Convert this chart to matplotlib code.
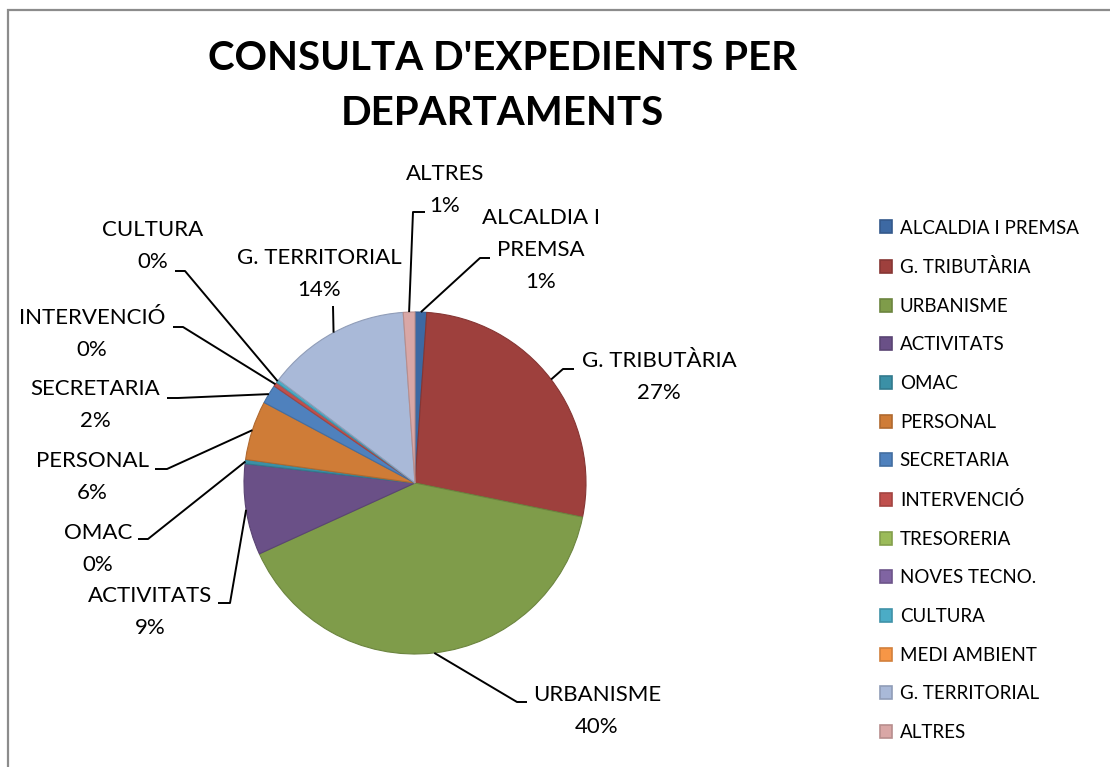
import numpy as np
import matplotlib
matplotlib.use("Agg")
import matplotlib.pyplot as plt
import matplotlib.colors as mcolors
from matplotlib.patches import Rectangle

plt.rcParams["font.family"] = ["Lato", "DejaVu Sans"]

W, H = 1110, 767

departments = ["ALCALDIA I PREMSA", "G. TRIBUTÀRIA", "URBANISME", "ACTIVITATS",
               "OMAC", "PERSONAL", "SECRETARIA", "INTERVENCIÓ", "TRESORERIA",
               "NOVES TECNO.", "CULTURA", "MEDI AMBIENT", "G. TERRITORIAL",
               "ALTRES"]
shares = [1.1, 27.1, 40.0, 8.6, 0.4, 5.6, 1.8, 0.4, 0.0, 0.0, 0.3, 0.0, 13.6, 1.1]
colors = ["#3d69a3", "#9e403d", "#7f9c4a", "#6a5087", "#3b90a6", "#cf7c37",
          "#4f81bd", "#c0504d", "#9bbb59", "#8064a2", "#4bacc6", "#f79646",
          "#a9b9d8", "#d9a7a6"]

# label layout in pixel coords (y down): text centre, elbow, end of short tick
label_layout = {
    "ALCALDIA I PREMSA": ((541, 250), (480, 258), (490, 258), "ALCALDIA I\nPREMSA"),
    "G. TRIBUTÀRIA": ((659, 377), (563, 369), (574, 369), "G. TRIBUTÀRIA"),
    "URBANISME": ((597, 711), (517, 702), (527, 702), "URBANISME"),
    "ACTIVITATS": ((150, 612), (230, 603), (218, 603), "ACTIVITATS"),
    "OMAC": ((98, 549), (148, 539), (138, 539), "OMAC"),
    "PERSONAL": ((92, 477), (167, 469), (155, 469), "PERSONAL"),
    "SECRETARIA": ((95, 405), (178, 398), (167, 398), "SECRETARIA"),
    "INTERVENCIÓ": ((92, 334), (183, 327), (173, 327), "INTERVENCIÓ"),
    "CULTURA": ((153, 246), (185, 271), (175, 271), "CULTURA"),
    "G. TERRITORIAL": ((319, 274), (333, 306), (333, 306), "G. TERRITORIAL"),
    "ALTRES": ((445, 190), (413, 212), (425, 212), "ALTRES"),
}

CX, CY, R = 415, 483, 171


def up(y):
    return H - y


fig = plt.figure(figsize=(W / 100, H / 100), dpi=100)
fig.patch.set_facecolor("white")
ax = fig.add_axes([0, 0, 1, 1])

edges = [tuple(np.array(mcolors.to_rgb(c)) * 0.85) for c in colors]
wedges, _ = ax.pie(shares, colors=colors, startangle=90, counterclock=False,
                   center=(CX, up(CY)), radius=R, frame=True,
                   wedgeprops=dict(linewidth=0.8))
for w, e, v in zip(wedges, edges, shares):
    w.set_edgecolor(e)
    if v == 0:
        w.set_linewidth(0)
ax.set_xlim(0, W)
ax.set_ylim(0, H)
ax.set_aspect("equal")
ax.axis("off")

total = sum(shares)
for w, name, v in zip(wedges, departments, shares):
    if name not in label_layout:
        continue
    (tx, ty), (ex, ey), (hx, hy), text = label_layout[name]
    mid = np.deg2rad((w.theta1 + w.theta2) / 2)
    axp = CX + R * np.cos(mid)
    ayp = up(CY) + R * np.sin(mid)
    ax.plot([axp, ex, hx], [ayp, up(ey), up(hy)], color="black", lw=1.4,
            solid_capstyle="butt", zorder=3)
    pct = int(v / total * 100 + 0.5)
    ax.text(tx, up(ty), f"{text}\n{pct}%", ha="center", va="center",
            fontsize=16, linespacing=1.72, color="black")

fig.text(502 / W, 1 - 86 / H, "CONSULTA D'EXPEDIENTS PER\nDEPARTAMENTS",
         ha="center", va="center", fontsize=29, fontweight="bold",
         linespacing=1.58)

leg = fig.legend(wedges, departments, loc="upper left",
                 bbox_to_anchor=(872 / W, 1 - 212 / H), frameon=False,
                 fontsize=13.5, handlelength=0.68, handleheight=0.68,
                 handletextpad=0.4, labelspacing=1.155, borderaxespad=0)
for h, e in zip(leg.legend_handles, edges):
    h.set_edgecolor(e)
    h.set_linewidth(1.2)

# chart-area frame (top and left edges visible)
fig.add_artist(Rectangle((8 / W, -0.1), 1.2, 1 - 10 / H + 0.1,
                         transform=fig.transFigure, fill=False,
                         edgecolor="#8c8c8c", linewidth=1.6))

fig.savefig("out.png", dpi=100)
